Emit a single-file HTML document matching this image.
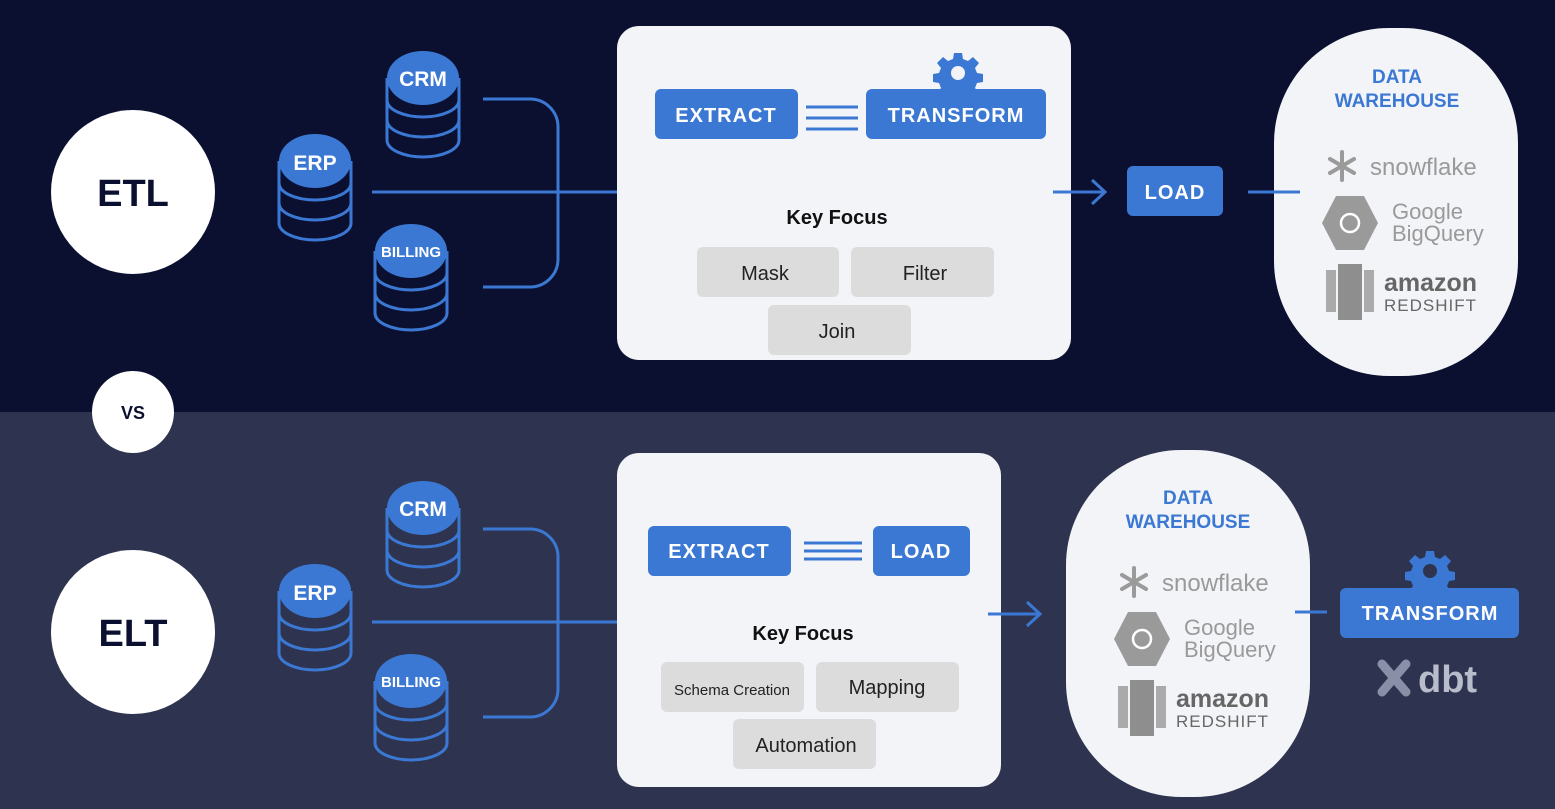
<!DOCTYPE html>
<html><head><meta charset="utf-8"><style>
html,body{margin:0;padding:0;background:#0b1030;}
svg{display:block;font-family:"Liberation Sans",sans-serif;}
</style></head><body>
<svg width="1555" height="809" viewBox="0 0 1555 809" xmlns="http://www.w3.org/2000/svg">
<defs>
<g id="db">
 <path d="M-36,26 V88 A36,17 0 0 0 36,88 V26" fill="none" stroke="#3b78d3" stroke-width="3"/>
 <path d="M-36,48 A36,17 0 0 0 36,48 M-36,68 A36,17 0 0 0 36,68" fill="none" stroke="#3b78d3" stroke-width="3"/>
 <ellipse cx="0" cy="26" rx="36" ry="27" fill="#3b78d3"/>
</g>
<path id="gearp" d="M-4,-20 h8 l1,6 l5,2 l5,-4 l6,6 l-4,5 l2,5 l6,1 v8 l-6,1 l-2,5 l4,5 l-6,6 l-5,-4 l-5,2 l-1,6 h-8 l-1,-6 l-5,-2 l-5,4 l-6,-6 l4,-5 l-2,-5 l-6,-1 v-8 l6,-1 l2,-5 l-4,-5 l6,-6 l5,4 l5,-2 z" fill="#3b78d3"/>
<g id="logos">
 <g stroke="#9a9a9a" stroke-width="4" stroke-linecap="round">
  <line x1="-58" y1="-14" x2="-58" y2="14"/><line x1="-70" y1="-7" x2="-46" y2="7"/><line x1="-70" y1="7" x2="-46" y2="-7"/>
 </g>
 <text x="-30" y="9" font-size="24" fill="#9a9a9a">snowflake</text>
 <polygon points="-64,30 -36,30 -22,57 -36,84 -64,84 -78,57" fill="#9a9a9a"/>
 <circle cx="-50" cy="57" r="9" fill="none" stroke="#fff" stroke-width="2.5"/>
 <text x="-8" y="53" font-size="22" fill="#9a9a9a">Google</text>
 <text x="-8" y="75" font-size="22" fill="#9a9a9a">BigQuery</text>
 <rect x="-74" y="104" width="10" height="42" fill="#aaa"/><rect x="-62" y="98" width="24" height="56" fill="#8e8e8e"/><rect x="-36" y="104" width="10" height="42" fill="#aaa"/>
 <text x="-16" y="125" font-size="25" font-weight="bold" fill="#666">amazon</text>
 <text x="-16" y="145" font-size="17" fill="#666" letter-spacing="1">REDSHIFT</text>
</g>
</defs>

<rect x="0" y="0" width="1555" height="412" fill="#0b1030"/>
<rect x="0" y="412" width="1555" height="397" fill="#2e3350"/>

<circle cx="133" cy="192" r="82" fill="#fff"/>
<text x="133" y="206" font-size="38" font-weight="bold" fill="#0b1030" text-anchor="middle">ETL</text>
<circle cx="133" cy="412" r="41" fill="#fff"/>
<text x="133" y="419" font-size="18" font-weight="bold" fill="#0b1030" text-anchor="middle">VS</text>
<circle cx="133" cy="632" r="82" fill="#fff"/>
<text x="133" y="646" font-size="38" font-weight="bold" fill="#0b1030" text-anchor="middle">ELT</text>

<use href="#db" x="423" y="52"/><text x="423" y="86" font-size="21" font-weight="bold" fill="#fff" text-anchor="middle">CRM</text>
<use href="#db" x="315" y="135"/><text x="315" y="170" font-size="21" font-weight="bold" fill="#fff" text-anchor="middle">ERP</text>
<use href="#db" x="411" y="225"/><text x="411" y="257" font-size="15" font-weight="bold" fill="#fff" text-anchor="middle">BILLING</text>
<path d="M483,99 H530 A28,28 0 0 1 558,127 V259 A28,28 0 0 1 530,287 H483" fill="none" stroke="#3b78d3" stroke-width="3"/>
<line x1="372" y1="192" x2="618" y2="192" stroke="#3b78d3" stroke-width="3"/>

<use href="#db" x="423" y="482"/><text x="423" y="516" font-size="21" font-weight="bold" fill="#fff" text-anchor="middle">CRM</text>
<use href="#db" x="315" y="565"/><text x="315" y="600" font-size="21" font-weight="bold" fill="#fff" text-anchor="middle">ERP</text>
<use href="#db" x="411" y="655"/><text x="411" y="687" font-size="15" font-weight="bold" fill="#fff" text-anchor="middle">BILLING</text>
<path d="M483,529 H530 A28,28 0 0 1 558,557 V689 A28,28 0 0 1 530,717 H483" fill="none" stroke="#3b78d3" stroke-width="3"/>
<line x1="372" y1="622" x2="618" y2="622" stroke="#3b78d3" stroke-width="3"/>

<rect x="617" y="26" width="454" height="334" rx="22" fill="#f3f4f8"/>
<rect x="655" y="89" width="143" height="50" rx="6" fill="#3b78d3"/>
<text x="726" y="122" font-size="20" font-weight="bold" fill="#fff" text-anchor="middle" letter-spacing="1">EXTRACT</text>
<g stroke="#3b78d3" stroke-width="3"><line x1="806" y1="107" x2="858" y2="107"/><line x1="806" y1="118" x2="858" y2="118"/><line x1="806" y1="129" x2="858" y2="129"/></g>
<use href="#gearp" x="958" y="73"/><circle cx="958" cy="73" r="7" fill="#f3f4f8"/>
<rect x="866" y="89" width="180" height="50" rx="6" fill="#3b78d3"/>
<text x="956" y="122" font-size="20" font-weight="bold" fill="#fff" text-anchor="middle" letter-spacing="1">TRANSFORM</text>
<text x="837" y="224" font-size="20" font-weight="bold" fill="#111" text-anchor="middle">Key Focus</text>
<rect x="697" y="247" width="142" height="50" rx="6" fill="#dcdcdc"/><text x="765" y="280" font-size="20" fill="#222" text-anchor="middle">Mask</text>
<rect x="851" y="247" width="143" height="50" rx="6" fill="#dcdcdc"/><text x="925" y="280" font-size="20" fill="#222" text-anchor="middle">Filter</text>
<rect x="768" y="305" width="143" height="50" rx="6" fill="#dcdcdc"/><text x="837" y="338" font-size="20" fill="#222" text-anchor="middle">Join</text>

<path d="M1053,192 H1105 M1092,180 L1105,192 L1092,204" fill="none" stroke="#3b78d3" stroke-width="3"/>
<rect x="1127" y="166" width="96" height="50" rx="6" fill="#3b78d3"/>
<text x="1175" y="199" font-size="20" font-weight="bold" fill="#fff" text-anchor="middle" letter-spacing="1">LOAD</text>
<rect x="1274" y="28" width="244" height="348" rx="115" fill="#f3f4f8"/>
<line x1="1248" y1="192" x2="1300" y2="192" stroke="#3b78d3" stroke-width="3"/>
<text x="1397" y="83" font-size="19" font-weight="bold" fill="#3b78d3" text-anchor="middle">DATA</text>
<text x="1397" y="107" font-size="19" font-weight="bold" fill="#3b78d3" text-anchor="middle">WAREHOUSE</text>
<use href="#logos" x="1400" y="166"/>

<rect x="617" y="453" width="384" height="334" rx="22" fill="#f3f4f8"/>
<rect x="648" y="526" width="143" height="50" rx="6" fill="#3b78d3"/>
<text x="719" y="558" font-size="20" font-weight="bold" fill="#fff" text-anchor="middle" letter-spacing="1">EXTRACT</text>
<g stroke="#3b78d3" stroke-width="3"><line x1="804" y1="543" x2="862" y2="543"/><line x1="804" y1="551" x2="862" y2="551"/><line x1="804" y1="559" x2="862" y2="559"/></g>
<rect x="873" y="526" width="97" height="50" rx="6" fill="#3b78d3"/>
<text x="921" y="558" font-size="20" font-weight="bold" fill="#fff" text-anchor="middle" letter-spacing="1">LOAD</text>
<text x="803" y="640" font-size="20" font-weight="bold" fill="#111" text-anchor="middle">Key Focus</text>
<rect x="661" y="662" width="143" height="50" rx="6" fill="#dcdcdc"/><text x="732" y="695" font-size="15" fill="#222" text-anchor="middle">Schema Creation</text>
<rect x="816" y="662" width="143" height="50" rx="6" fill="#dcdcdc"/><text x="887" y="694" font-size="20" fill="#222" text-anchor="middle">Mapping</text>
<rect x="733" y="719" width="143" height="50" rx="6" fill="#dcdcdc"/><text x="806" y="752" font-size="20" fill="#222" text-anchor="middle">Automation</text>

<path d="M988,614 H1040 M1027,602 L1040,614 L1027,626" fill="none" stroke="#3b78d3" stroke-width="3"/>
<rect x="1066" y="450" width="244" height="347" rx="115" fill="#f3f4f8"/>
<text x="1188" y="504" font-size="19" font-weight="bold" fill="#3b78d3" text-anchor="middle">DATA</text>
<text x="1188" y="528" font-size="19" font-weight="bold" fill="#3b78d3" text-anchor="middle">WAREHOUSE</text>
<use href="#logos" x="1192" y="582"/>
<line x1="1295" y1="612" x2="1327" y2="612" stroke="#3b78d3" stroke-width="3"/>
<use href="#gearp" x="1430" y="571"/><circle cx="1430" cy="571" r="7" fill="#2e3350"/>
<rect x="1340" y="588" width="179" height="50" rx="6" fill="#3b78d3"/>
<text x="1430" y="620" font-size="20" font-weight="bold" fill="#fff" text-anchor="middle" letter-spacing="1">TRANSFORM</text>
<g stroke="#8a8fa8" stroke-width="9" stroke-linecap="round"><line x1="1382" y1="664" x2="1406" y2="692"/><line x1="1406" y1="664" x2="1382" y2="692"/></g>
<text x="1418" y="692" font-size="38" font-weight="bold" fill="#b8bccb">dbt</text>
</svg>
</body></html>
